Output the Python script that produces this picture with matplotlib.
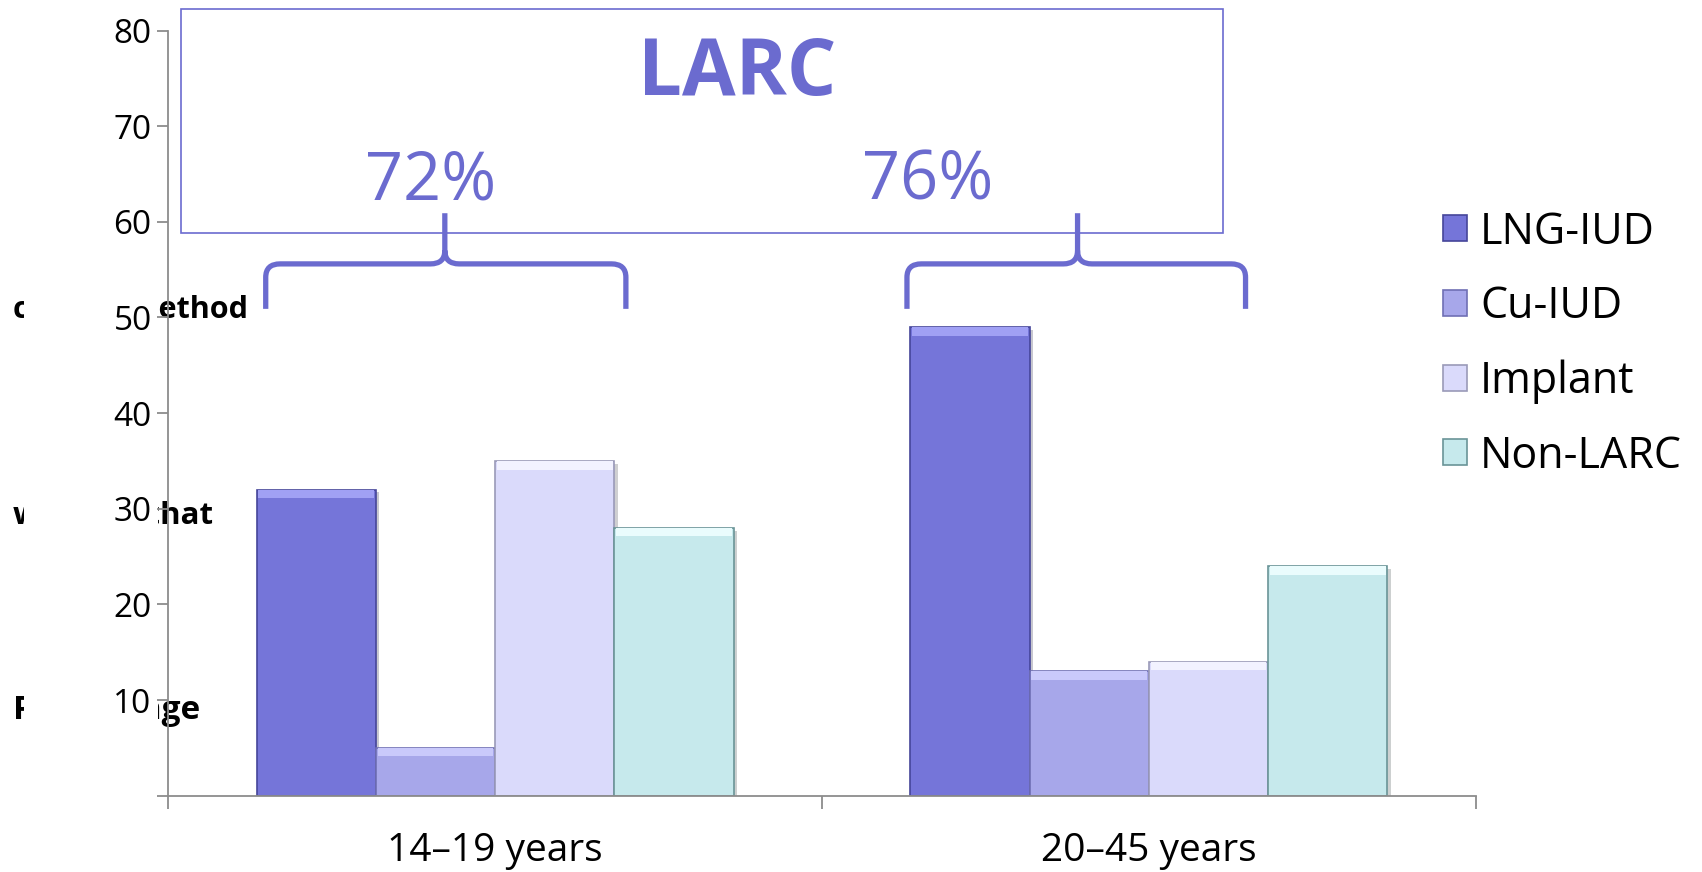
import matplotlib
matplotlib.use("Agg")
import matplotlib.pyplot as plt
import numpy as np
from matplotlib.patches import Rectangle, PathPatch, Patch
from matplotlib.path import Path
import matplotlib.patheffects as pe

plt.rcParams["font.family"] = ["Open Sans", "DejaVu Sans"]

AGE_GROUPS = ["14\u201319 years", "20\u201345 years"]
METHODS = ["LNG-IUD", "Cu-IUD", "Implant", "Non-LARC"]
LNG_IUD = [32, 49]
CU_IUD = [5, 13]
IMPLANT = [35, 14]
NON_LARC = [28, 24]
LARC_LABELS = ["72%", "76%"]

Y_TICKS = [0, 10, 20, 30, 40, 50, 60, 70, 80]
Y_TICK_LABELS = ["", "10", "20", "30", "40", "50", "60", "70", "80"]

FACE = ["#7575d9", "#a7a7ea", "#dadafb", "#c6e9ec"]
TOP = ["#a0a0f4", "#c9c9fb", "#f2f2ff", "#eafcfd"]
EDGE = ["#45459a", "#6f6fb4", "#9a9ab8", "#6a9497"]
ACCENT = "#6b6bcf"

fig = plt.figure(figsize=(17.02, 8.72), dpi=100)
fig.patch.set_facecolor("white")

# axis title, mostly hidden behind the tick label strip
ylab_lines = [("chosen method", 0.645, 22), ("who got that", 0.408, 22.5),
              ("Percentage", 0.185, 24)]
for txt, yy, fs in ylab_lines:
    fig.text(0.0076, yy, txt, fontsize=fs, fontweight="bold", va="center",
             ha="left", zorder=0)
fig.patches.append(Rectangle((0.014, 0.12), 0.0791, 0.62, transform=fig.transFigure,
                             facecolor="white", edgecolor="none", zorder=0.5))

ax = fig.add_axes([0.0989, 0.0875, 0.7681, 0.8775])
ax.set_zorder(1)
ax.patch.set_alpha(0)

x = np.arange(len(AGE_GROUPS))
w = 0.1825
series = [LNG_IUD, CU_IUD, IMPLANT, NON_LARC]
bevel = 0.9
for i, (vals, name) in enumerate(zip(series, METHODS)):
    pos = x + (i - 1.5) * w
    ax.bar(pos, vals, w, color=FACE[i], edgecolor=EDGE[i], linewidth=1.2, label=name,
           zorder=2,
           path_effects=[pe.SimplePatchShadow(offset=(2.5, -2), alpha=0.25), pe.Normal()])
    ax.bar(pos, bevel, w * 0.97, bottom=np.array(vals) - bevel, color=TOP[i],
           linewidth=0, zorder=3)

ax.set_xlim(-0.5, 1.5)
ax.set_ylim(0, 80)

for side in ["top", "right"]:
    ax.spines[side].set_visible(False)
for side in ["left", "bottom"]:
    ax.spines[side].set_color("#8c8c8c")
    ax.spines[side].set_linewidth(1.3)

ax.set_yticks(Y_TICKS)
ax.set_yticklabels(Y_TICK_LABELS)
ax.tick_params(axis="y", length=8, width=1.3, color="#8c8c8c", labelsize=24, pad=4)

ax.set_xticks([-0.5, 0.5, 1.5])
ax.set_xticklabels([])
ax.set_xticks(x, minor=True)
ax.set_xticklabels(AGE_GROUPS, minor=True)
ax.tick_params(axis="x", which="major", length=9, width=1.3, color="#8c8c8c")
ax.tick_params(axis="x", which="minor", length=0, labelsize=28, pad=26)

# LARC box with the combined share above each group
ax.add_patch(Rectangle((-0.48, 58.8), 1.593, 23.4, facecolor="none", edgecolor=ACCENT,
                       linewidth=1.2, clip_on=False, zorder=4))
ax.text(0.371, 75.4, "LARC", color=ACCENT, fontsize=56, fontweight="bold",
        ha="center", va="center", clip_on=False)
for xt, lab in zip([-0.098, 0.662], LARC_LABELS):
    ax.text(xt, 64.2, lab, color=ACCENT, fontsize=48, ha="center", va="center",
            clip_on=False)


def brace(x0, x1, xm, y_end, y_h, y_top, rx=0.022, ry=1.4):
    verts = [
        (x0, y_end), (x0, y_h - ry), (x0, y_h), (x0 + rx, y_h),
        (xm - rx, y_h), (xm, y_h), (xm, y_h + ry), (xm, y_top),
        (xm, y_h + ry), (xm, y_h), (xm + rx, y_h),
        (x1 - rx, y_h), (x1, y_h), (x1, y_h - ry), (x1, y_end),
    ]
    codes = [
        Path.MOVETO, Path.LINETO, Path.CURVE3, Path.CURVE3,
        Path.LINETO, Path.CURVE3, Path.CURVE3, Path.LINETO,
        Path.MOVETO, Path.CURVE3, Path.CURVE3,
        Path.LINETO, Path.CURVE3, Path.CURVE3, Path.LINETO,
    ]
    ax.add_patch(PathPatch(Path(verts, codes), facecolor="none", edgecolor=ACCENT,
                           linewidth=3.8, capstyle="butt", joinstyle="round",
                           clip_on=False, zorder=4))


brace(-0.351, 0.200, -0.077, 50.9, 55.6, 60.9)
brace(0.630, 1.148, 0.891, 50.9, 55.6, 60.9)

handles = [Patch(facecolor=FACE[i], edgecolor=EDGE[i], linewidth=1.2, label=METHODS[i])
           for i in range(len(METHODS))]
fig.legend(handles=handles, loc="upper left", bbox_to_anchor=(0.848, 0.759),
           frameon=False, fontsize=31, handlelength=0.55, handleheight=0.55,
           handletextpad=0.3, labelspacing=0.70, borderpad=0, borderaxespad=0)

fig.savefig("out.png", dpi=100, facecolor="white")
